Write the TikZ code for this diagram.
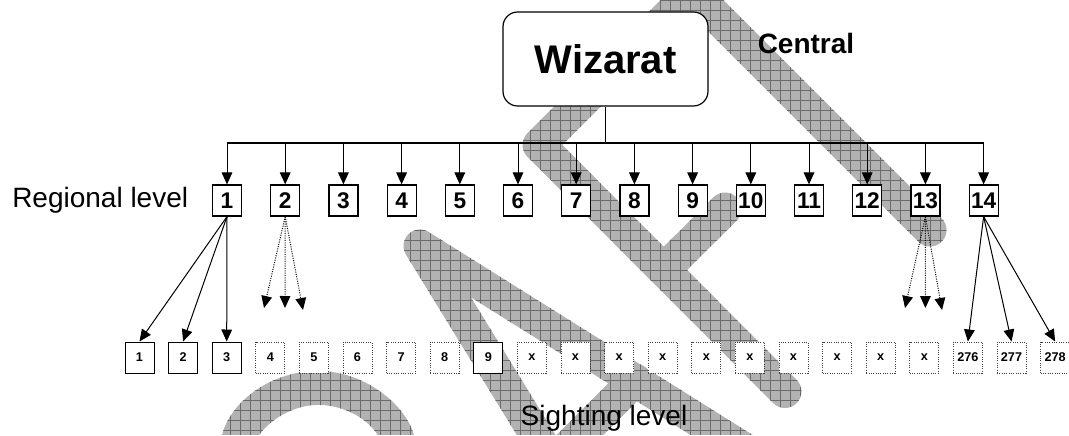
\documentclass[tikz,border=0pt]{standalone}
\usepackage{fontspec}
\setmainfont{Liberation Sans}
\usetikzlibrary{calc,arrows.meta}

% four corners (a,b,c,d) of a bar of half width 16.5 units from #2 to #3,
% lengthened by its half width at both ends so that rounding gives round caps
\newcommand\wmband[3]{%
  \path ($(#2)!-12.375pt!(#3)$) coordinate (#1p)
        ($(#3)!-12.375pt!(#2)$) coordinate (#1q);
  \path ($(#1p)!12.375pt!90:(#1q)$) coordinate (#1a)
        ($(#1q)!12.375pt!-90:(#1p)$) coordinate (#1b)
        ($(#1q)!12.375pt!90:(#1p)$) coordinate (#1c)
        ($(#1p)!12.375pt!-90:(#1q)$) coordinate (#1d);
}
\newcommand\wmpath[1]{(#1a) -- (#1b) -- (#1c) -- (#1d) -- cycle}

\begin{document}
\begin{tikzpicture}[x=0.75pt,y=-0.75pt,
  wbox/.style={draw, line width=0.9pt, rounded corners=11pt, fill=white,
    minimum width=153.75pt, minimum height=70.5pt, inner sep=0pt,
    font=\fontsize{30}{30}\selectfont\bfseries},
  rbox/.style={draw, line width=0.9pt, fill=white, minimum width=21.75pt,
    minimum height=23.25pt, inner sep=0pt,
    font=\fontsize{17}{17}\selectfont\bfseries},
  sbox/.style={draw, line width=0.75pt, fill=white, minimum width=21.75pt,
    minimum height=23.25pt, inner sep=0pt,
    font=\fontsize{9.5}{9.5}\selectfont\bfseries},
  sdot/.style={sbox, draw=black!75, densely dotted},
  tip/.style={-{Triangle[length=9pt,width=8pt]}},
  link/.style={line width=0.75pt, tip},
  dlink/.style={line width=0.75pt, densely dotted, tip},
  bus/.style={line width=1.3pt},
  lvl/.style={font=\fontsize{21}{21}\selectfont, inner sep=0pt},
  wmfill/.style={fill=black!30},
  wmgrid/.style={draw=black!58, line width=0.45pt}
]
\useasboundingbox (0,0) rectangle (1069,435);

% ---------- background watermark lettering ----------
\coordinate (tA) at (930,230);   \coordinate (tB) at (680,-20);
\coordinate (fC) at (539,145);   \coordinate (fT) at (720,-36);
\coordinate (fS) at (785,391.5); \coordinate (fM) at (663.6,270.1);
\coordinate (fE) at (725,209);
\coordinate (aP) at (420,246);   \coordinate (aL) at (640,604);
\coordinate (aR) at (776,469);   \coordinate (aX) at (553,462);
\coordinate (aY) at (635,380);
\wmband{ts}{tA}{tB}
\wmband{ft}{fC}{fT}
\wmband{fs}{fC}{fS}
\wmband{fm}{fM}{fE}
\wmband{al}{aP}{aL}
\wmband{ar}{aP}{aR}
\wmband{ax}{aX}{aY}
\begin{scope}
  \clip[rounded corners=12.375pt]
    \wmpath{ts} \wmpath{ft} \wmpath{fs} \wmpath{fm}
    \wmpath{al} \wmpath{ar} \wmpath{ax}
    ($(318,472)+(190:101)$) arc[start angle=190, end angle=350, radius=101]
    -- ($(318,472)+(350:67)$) arc[start angle=350, end angle=190, radius=67]
    -- cycle;
  \fill[wmfill] (0,0) rectangle (1069,435);
  \foreach \k in {0,10,...,1070} \draw[wmgrid] (\k,0) -- (\k,435);
  \foreach \k in {0,10,...,440} \draw[wmgrid] (0,\k) -- (1069,\k);
\end{scope}

% ---------- central level ----------
\node[wbox] (wiz) at (605.5,59) {Wizarat};
\node[font=\fontsize{21}{21}\selectfont\bfseries, inner sep=0pt] (central) at (806,43) {Central};

% ---------- regional level ----------
\foreach \i in {1,...,14}
  \node[rbox] (r\i) at ({227+58.2*(\i-1)},200.5) {\i};
\node[lvl, anchor=base west] (reglab) at (12,207) {Regional level};

\coordinate (hub) at (605.5,143);
\draw[bus] (wiz.south) -- (hub);
\draw[bus] (r1 |- hub) -- (r14 |- hub);
\foreach \i in {1,...,14}
  \draw[link] (r\i |- hub) -- (r\i.north);

% ---------- sighting level ----------
\foreach \lab/\sty [count=\j] in {1/sbox,2/sbox,3/sbox,4/sdot,5/sdot,6/sdot,
    7/sdot,8/sdot,9/sbox,x/sdot,x/sdot,x/sdot,x/sdot,x/sdot,x/sdot,x/sdot,
    x/sdot,x/sdot,x/sdot,276/sdot,277/sdot,278/sdot}
  \node[\sty] (s\j) at ({139.5+43.6*(\j-1)},357.5) {\lab};
\node[lvl, anchor=base] (siglab) at (604,425) {Sighting level};

% region 1 and region 14 feed their sighting points
\foreach \j in {1,2,3}
  \draw[link] (r1.south) -- (s\j.north);
\foreach \j in {20,21,22}
  \draw[link] (r14.south) -- (s\j.north);

% regions 2 and 13: open-ended fan-outs
\coordinate (d2a) at (264,308); \coordinate (d2b) at (285,308);
\coordinate (d2c) at (303,310);
\coordinate (d13a) at (905,308); \coordinate (d13b) at (925.4,308);
\coordinate (d13c) at (942,310);
\foreach \e in {d2a,d2b,d2c}
  \draw[dlink] (r2.south) -- (\e);
\foreach \e in {d13a,d13b,d13c}
  \draw[dlink] (r13.south) -- (\e);
\end{tikzpicture}
\end{document}
